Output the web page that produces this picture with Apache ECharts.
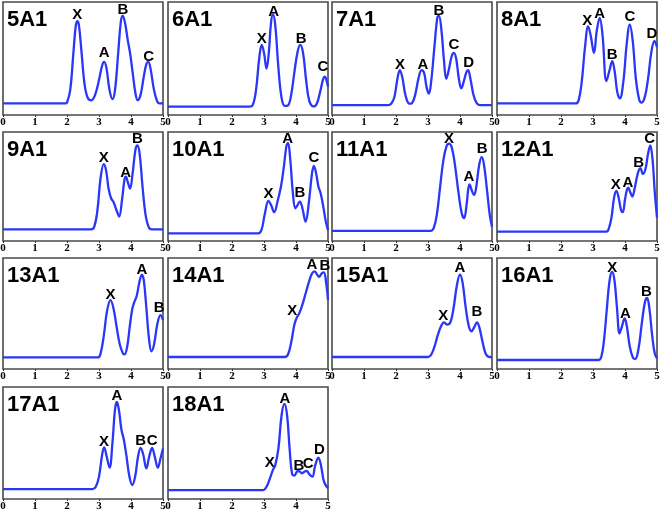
<!DOCTYPE html>
<html>
<head>
<meta charset="utf-8">
<script src="https://cdn.jsdelivr.net/npm/echarts@6/dist/echarts.min.js"></script>
<style>
html,body{margin:0;padding:0;background:#fff;}
#chart{width:661px;height:513px;}
</style>
</head>
<body>
<div id="chart"></div>
<script>
// ---- data ----
const xTicks = [0, 1, 2, 3, 4, 5];
const panelNames = ['5A1','6A1','7A1','8A1','9A1','10A1','11A1','12A1','13A1','14A1','15A1','16A1','17A1','18A1'];

const curve5A1 = [[0,10.3],[1.95,10.3],[2.0,11],[2.1,22],[2.2,55],[2.27,78],[2.32,83],[2.37,80],[2.45,57],[2.55,27],[2.65,15],[2.76,13],[2.88,18],[3.0,31],[3.1,44],[3.16,47],[3.23,42],[3.33,22],[3.42,14],[3.5,22],[3.6,55],[3.68,82],[3.74,88],[3.81,82],[3.9,66],[3.97,55],[4.05,38],[4.14,19],[4.21,13],[4.3,18],[4.4,34],[4.48,45],[4.54,47],[4.61,41],[4.72,22],[4.82,12],[4.9,10.3],[5.0,10.3]];
const curve6A1 = [[0,7.4],[2.55,7.4],[2.65,9],[2.75,22],[2.85,50],[2.93,62],[3.0,55],[3.08,41],[3.15,55],[3.22,82],[3.28,89],[3.35,80],[3.45,42],[3.55,15],[3.65,8],[3.75,8.5],[3.85,18],[3.95,38],[4.05,56],[4.13,62],[4.22,55],[4.32,30],[4.42,12],[4.55,7.6],[4.65,10],[4.75,20],[4.85,32],[4.9,34],[4.96,30],[5.0,25]];
const curve7A1 = [[0,8.8],[1.75,8.8],[1.85,10],[1.95,16],[2.05,33],[2.12,39.7],[2.2,33],[2.3,17],[2.42,10],[2.5,10.5],[2.6,18],[2.7,32],[2.8,39.7],[2.88,37],[2.96,24],[3.03,19],[3.1,30],[3.2,60],[3.29,86],[3.34,88],[3.42,75],[3.5,48],[3.57,32],[3.65,40],[3.74,52],[3.81,55],[3.88,50],[3.96,33],[4.04,23.5],[4.12,30],[4.2,38],[4.25,39.7],[4.32,33],[4.42,18],[4.52,10.5],[4.62,8.8],[5.0,8.8]];
const curve8A1 = [[0,10.3],[2.45,10.3],[2.55,13],[2.65,30],[2.75,60],[2.85,78.5],[2.93,70],[3.03,55],[3.12,75],[3.21,86],[3.3,70],[3.42,30],[3.52,40],[3.6,47.6],[3.68,38],[3.76,20],[3.84,14.7],[3.95,30],[4.05,62],[4.15,80],[4.24,66],[4.34,32],[4.44,14],[4.52,11],[4.62,16],[4.72,32],[4.82,55],[4.92,65.6],[5.0,60]];
const curve9A1 = [[0,10.7],[2.75,10.7],[2.85,13],[2.95,28],[3.05,58],[3.15,70.6],[3.22,65],[3.3,48],[3.38,39],[3.45,36],[3.55,28],[3.63,22.4],[3.72,38],[3.8,57],[3.84,59],[3.9,54],[3.97,48],[4.05,62],[4.14,84],[4.2,87.7],[4.27,80],[4.36,50],[4.45,25],[4.55,13],[4.65,10.7],[5.0,10.7]];
const curve10A1 = [[0,7],[2.82,7],[2.92,10],[3.02,24],[3.14,36.8],[3.22,33],[3.32,26.4],[3.42,36],[3.53,50],[3.62,68],[3.7,87],[3.75,89.9],[3.82,75],[3.9,45],[3.98,30],[4.05,33],[4.12,36.2],[4.2,30],[4.3,17.8],[4.4,35],[4.5,62],[4.56,69],[4.63,62],[4.7,50],[4.77,43.9],[4.85,32],[4.93,18],[5.0,10]];
const curve11A1 = [[0,9.2],[3.08,9.2],[3.18,12],[3.28,25],[3.38,50],[3.48,74],[3.58,87],[3.66,89.3],[3.75,85],[3.85,68],[3.95,45],[4.05,26],[4.13,20.9],[4.2,32],[4.26,48],[4.3,52],[4.36,47],[4.44,42.3],[4.5,48],[4.6,70],[4.68,77],[4.75,70],[4.85,45],[4.93,24],[5.0,13]];
const curve12A1 = [[0,8.6],[3.42,8.6],[3.5,12],[3.58,22],[3.66,40],[3.73,46],[3.8,40],[3.88,28],[3.93,26.4],[4.0,38],[4.06,47],[4.1,49],[4.16,45],[4.23,40.8],[4.3,48],[4.4,62],[4.48,66.9],[4.56,61.5],[4.64,66],[4.72,80],[4.79,87.7],[4.86,75],[4.93,45],[5.0,21.5]];
const curve13A1 = [[0,10.5],[2.97,10.5],[3.05,14],[3.15,30],[3.25,52],[3.36,62],[3.45,55],[3.55,38],[3.65,22],[3.75,14],[3.8,13.2],[3.88,20],[3.96,38],[4.04,54],[4.1,60],[4.18,66],[4.26,78],[4.34,85],[4.4,80],[4.48,55],[4.56,28],[4.64,16],[4.72,22],[4.82,40],[4.92,48.5],[5.0,44]];
const curve14A1 = [[0,10.8],[3.65,10.8],[3.75,13],[3.85,24],[3.95,40],[4.02,46],[4.1,50],[4.2,58],[4.3,68],[4.4,78],[4.5,86],[4.58,88],[4.66,85],[4.72,83],[4.8,86],[4.87,87],[4.94,78],[5.0,62]];
const curve15A1 = [[0,10.8],[3.0,10.8],[3.1,13],[3.2,20],[3.3,30],[3.4,38],[3.5,42],[3.6,40],[3.7,42],[3.8,55],[3.9,75],[4.0,85],[4.08,78],[4.18,55],[4.28,38],[4.36,34],[4.45,38],[4.53,42],[4.6,38],[4.7,25],[4.8,14],[4.9,11],[5.0,10.8]];
const curve16A1 = [[0,8.1],[3.18,8.1],[3.26,11],[3.34,25],[3.42,50],[3.52,80],[3.6,87.4],[3.67,80],[3.75,55],[3.83,32],[3.9,38],[3.99,45.5],[4.06,38],[4.15,20],[4.25,10],[4.32,9],[4.42,18],[4.52,40],[4.62,60],[4.69,64],[4.76,55],[4.85,30],[4.93,14],[5.0,9.6]];
const curve17A1 = [[0,8.9],[2.8,8.9],[2.9,11],[3.0,20],[3.1,40],[3.16,46],[3.24,38],[3.33,28],[3.42,50],[3.5,80],[3.56,86.6],[3.63,78],[3.7,62],[3.78,52.5],[3.86,38],[3.95,20],[4.04,12.5],[4.13,20],[4.22,38],[4.3,45.7],[4.38,40],[4.48,27.3],[4.57,38],[4.66,45.7],[4.74,38],[4.84,28],[4.92,36],[5.0,45]];
const curve18A1 = [[0,8],[2.98,8],[3.08,11],[3.18,18],[3.28,26],[3.35,30],[3.45,45],[3.55,75],[3.64,85],[3.72,75],[3.8,45],[3.88,22],[3.95,21],[4.05,25],[4.12,24.5],[4.19,23],[4.27,24.5],[4.33,25],[4.42,22],[4.51,20],[4.6,30],[4.7,37],[4.78,30],[4.88,15],[5.0,9.5]];

const peaks5A1 = [[2.32,89,'X'],[3.16,55,'A'],[3.75,93,'B'],[4.55,51.5,'C']];
const peaks6A1 = [[2.93,67,'X'],[3.3,91,'A'],[4.16,67,'B'],[4.84,42.6,'C']];
const peaks7A1 = [[2.125,44,'X'],[2.84,44,'A'],[3.34,92.6,'B'],[3.81,61.8,'C'],[4.27,46.5,'D']];
const peaks8A1 = [[2.82,83,'X'],[3.21,89.7,'A'],[3.6,53.5,'B'],[4.15,86.8,'C'],[4.84,72,'D']];
const peaks9A1 = [[3.15,76,'X'],[3.83,62.3,'A'],[4.2,93.9,'B']];
const peaks10A1 = [[3.14,43,'X'],[3.74,93.9,'A'],[4.12,43.9,'B'],[4.56,76,'C']];
const peaks11A1 = [[3.66,93.9,'X'],[4.28,59.2,'A'],[4.69,84.7,'B']];
const peaks12A1 = [[3.71,51.5,'X'],[4.09,53,'A'],[4.43,71.5,'B'],[4.77,93.9,'C']];
const peaks13A1 = [[3.36,66.5,'X'],[4.34,89,'A'],[4.88,55,'B']];
const peaks14A1 = [[3.88,52,'X'],[4.5,93.7,'A'],[4.9,93,'B']];
const peaks15A1 = [[3.48,47.7,'X'],[4.0,91,'A'],[4.53,51.4,'B']];
const peaks16A1 = [[3.6,91,'X'],[4.01,50,'A'],[4.67,69.5,'B']];
const peaks17A1 = [[3.16,51,'X'],[3.56,91.7,'A'],[4.3,52,'B'],[4.66,52,'C']];
const peaks18A1 = [[3.18,32.3,'X'],[3.65,89.6,'A'],[4.09,30,'B'],[4.38,31,'C'],[4.73,44,'D']];

const curves = [curve5A1,curve6A1,curve7A1,curve8A1,curve9A1,curve10A1,curve11A1,curve12A1,curve13A1,curve14A1,curve15A1,curve16A1,curve17A1,curve18A1];
const peaks = [peaks5A1,peaks6A1,peaks7A1,peaks8A1,peaks9A1,peaks10A1,peaks11A1,peaks12A1,peaks13A1,peaks14A1,peaks15A1,peaks16A1,peaks17A1,peaks18A1];

// ---- layout ----
const colLeft = [3, 168, 332, 497];
const rowTop = [2, 132, 258, 387];
const rowH = [113, 109, 111, 112];
const panelW = 160;

const grids = [], xAxes = [], yAxes = [], series = [], titles = [];
panelNames.forEach((name, i) => {
  const r = Math.floor(i / 4), c = i % 4;
  grids.push({
    left: colLeft[c], top: rowTop[r], width: panelW, height: rowH[r],
    show: true, borderColor: '#4a4a4a', borderWidth: 1.6, backgroundColor: 'transparent',
    containLabel: false, outerBoundsMode: 'none'
  });
  xAxes.push({
    type: 'value', gridIndex: i, min: xTicks[0], max: xTicks[xTicks.length - 1], interval: 1,
    axisLine: { show: false },
    axisTick: { show: true, length: 2, inside: false, lineStyle: { color: '#333', width: 1 } },
    splitLine: { show: false },
    axisLabel: { show: true, margin: 2, color: '#000', fontFamily: 'Liberation Serif', fontWeight: 'bold', fontSize: 11,
      formatter: v => String(v) }
  });
  yAxes.push({
    type: 'value', gridIndex: i, min: 0, max: 100,
    show: false, splitLine: { show: false }
  });
  series.push({
    type: 'line', xAxisIndex: i, yAxisIndex: i, data: curves[i],
    smooth: 0.4, symbol: 'none', silent: true,
    lineStyle: { color: '#2a36f8', width: 2.3 }
  });
  series.push({
    type: 'scatter', xAxisIndex: i, yAxisIndex: i, data: peaks[i],
    symbolSize: 0, itemStyle: { color: '#000', opacity: 1 }, silent: true,
    label: { show: true, position: 'inside', color: '#000', opacity: 1, textBorderWidth: 0,
      fontFamily: 'Liberation Sans', fontWeight: 'bold', fontSize: 15,
      formatter: p => p.data[2] }
  });
  titles.push({
    text: name, left: colLeft[c] + 4, top: rowTop[r] + 7, padding: 0,
    textStyle: { fontFamily: 'Liberation Sans', fontWeight: 'bold', fontSize: 22, color: '#000' }
  });
});

const chart = echarts.init(document.getElementById('chart'), null, { renderer: 'canvas' });
chart.setOption({
  animation: false,
  backgroundColor: '#fff',
  title: titles,
  grid: grids,
  xAxis: xAxes,
  yAxis: yAxes,
  series: series
});
</script>
</body>
</html>
